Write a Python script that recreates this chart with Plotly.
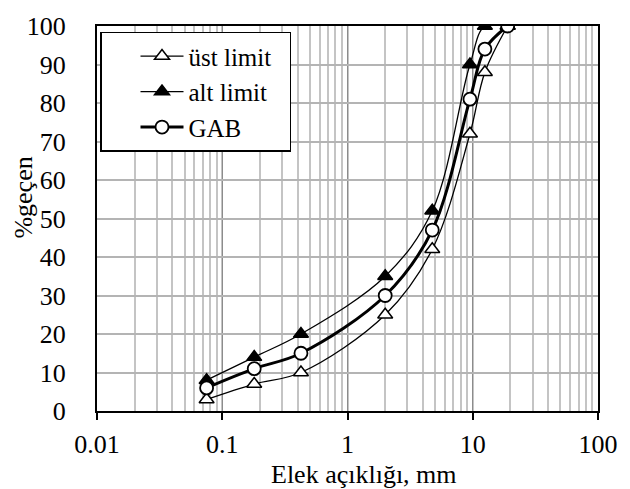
import plotly.graph_objects as go

sieve_mm = [0.075, 0.18, 0.425, 2, 4.75, 9.5, 12.5, 19]
ust_limit = [3, 7, 10, 25, 42, 72, 88, 100]
alt_limit = [8, 14, 20, 35, 52, 90, 100, 100]
gab = [6, 11, 15, 30, 47, 81, 94, 100]
names = ["üst limit\u00a0\u00a0", "alt limit", "GAB"]
x_ticks = [0.01, 0.1, 1, 10, 100]
x_ticklabels = ["0.01", "0.1", "1", "10", "100"]
y_ticks = list(range(0, 101, 10))

FONT = "Liberation Serif"

fig = go.Figure()
fig.add_trace(go.Scatter(
    x=sieve_mm, y=ust_limit, name=names[0], mode="lines+markers",
    line=dict(color="black", width=1.3, shape="spline"),
    marker=dict(symbol="triangle-up", size=13, color="white",
                line=dict(color="black", width=1.5))))
fig.add_trace(go.Scatter(
    x=sieve_mm, y=alt_limit, name=names[1], mode="lines+markers",
    line=dict(color="black", width=1.3, shape="spline"),
    marker=dict(symbol="triangle-up", size=13, color="black",
                line=dict(color="black", width=1.5))))
fig.add_trace(go.Scatter(
    x=sieve_mm, y=gab, name=names[2], mode="lines+markers",
    line=dict(color="black", width=3, shape="spline"),
    marker=dict(symbol="circle", size=13, color="white",
                line=dict(color="black", width=1.8))))

fig.update_layout(
    width=630, height=489,
    margin=dict(l=97, r=21, t=17, b=78, pad=0),
    paper_bgcolor="white", plot_bgcolor="white",
    font=dict(family=FONT, size=26, color="black"),
    showlegend=True,
    legend=dict(x=0.006, y=0.985, xanchor="left", yanchor="top",
                bgcolor="white", bordercolor="black", borderwidth=1.5,
                font=dict(family=FONT, size=25), tracegroupgap=0,
                itemwidth=43, indentation=34),
    xaxis=dict(type="log", range=[-2, 2],
               tickvals=x_ticks, ticktext=x_ticklabels,
               tickfont=dict(family=FONT, size=26),
               showgrid=True, gridcolor="#8c8c8c", gridwidth=1,
               minor=dict(showgrid=True, gridcolor="#c4c4c4", gridwidth=1.8,
                          dtick="D1", ticks=""),
               showline=True, linecolor="black", linewidth=2, mirror=True,
               ticks="outside", ticklen=7, tickwidth=2, tickcolor="black",
               ticklabelstandoff=2,
               zeroline=False),
    yaxis=dict(range=[0, 100], tickvals=y_ticks,
               tickfont=dict(family=FONT, size=26),
               showgrid=True, gridcolor="#b4b4b4", gridwidth=1.5,
               showline=True, linecolor="black", linewidth=2, mirror=True,
               ticks="", ticklabelstandoff=24, zeroline=False),
    annotations=[
        dict(text="Elek açıklığı, mm", xref="paper", yref="paper",
             x=(370 - 97) / 512, y=-(476 - 411) / 394, xanchor="center",
             yanchor="middle", showarrow=False,
             font=dict(family=FONT, size=26)),
        dict(text="%geçen", xref="paper", yref="paper",
             x=-(97 - 22) / 512, y=(411 - 193) / 394, xanchor="center",
             yanchor="middle", textangle=-90, showarrow=False,
             font=dict(family=FONT, size=26)),
    ],
)

fig.write_html("out.html")
